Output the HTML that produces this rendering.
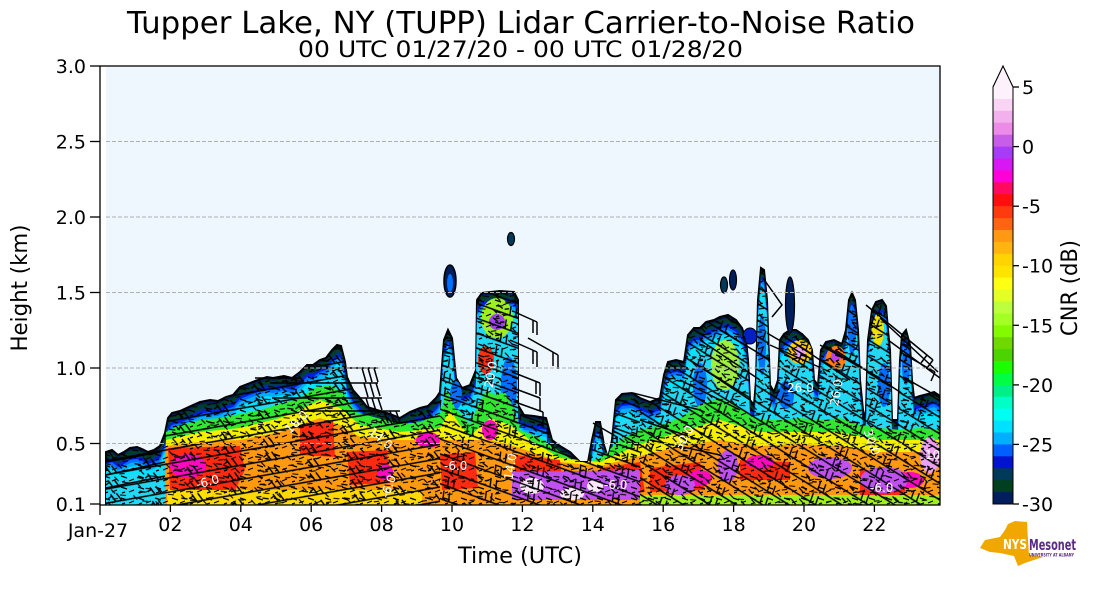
<!DOCTYPE html>
<html>
<head>
<meta charset="utf-8">
<style>
  html,body{margin:0;padding:0;background:#fff;}
  svg{display:block;}
  text{font-family:"DejaVu Sans","Liberation Sans",sans-serif;}
</style>
</head>
<body>
<svg width="1093" height="600" viewBox="0 0 1093 600" xmlns="http://www.w3.org/2000/svg">
<defs>
  <path id="env" d="M106,505 L106,452 L112,450 L118,455 L124,452 L130,448 L137,447 L142,449 L148,452 L154,450 L160,446 L165,433 L168,418 L172,413 L180,411 L193,405 L200,402 L210,400 L218,401 L226,397 L233,395 L240,387 L250,383 L258,380 L267,377 L273,378 L284,376 L292,378 L300,372 L307,365 L313,365 L320,360 L326,358 L332,350 L337,345 L341,346 L345,362 L347,377 L353,390 L360,398 L367,407 L377,410 L390,414 L400,418 L410,412 L420,408 L428,406 L436,398 L440,392 L444,340 L448,330 L452,338 L456,378 L462,388 L470,385 L476,370 L477,300 L482,293 L500,291 L514,292 L518,300 L518,405 L524,415 L534,416 L546,418 L552,440 L560,446 L570,452 L580,462 L588,462 L592,440 L596,422 L600,422 L604,445 L608,458 L612,440 L616,400 L622,394 L632,393 L640,398 L650,402 L660,398 L664,375 L668,362 L676,360 L684,362 L688,335 L694,328 L700,328 L706,322 L714,320 L720,317 L728,315 L736,320 L742,328 L746,340 L748,360 L750,400 L754,405 L756,380 L758,300 L761,268 L764,270 L767,300 L768,330 L770,385 L774,392 L778,380 L780,340 L784,334 L790,330 L796,330 L802,334 L808,340 L812,350 L814,380 L818,385 L821,350 L826,342 L834,340 L842,344 L846,330 L849,300 L852,293 L855,300 L858,330 L860,380 L864,420 L866,410 L868,340 L872,310 L876,302 L882,300 L886,306 L888,330 L890,350 L892,420 L898,420 L900,360 L902,335 L906,330 L910,345 L912,380 L914,398 L920,396 L928,394 L934,392 L940,396 L940,505 Z"/>
  <clipPath id="plotclip"><rect x="101" y="66" width="839" height="439"/></clipPath>
  <clipPath id="envclip"><use href="#env"/></clipPath>
  <pattern id="pA" width="40" height="14" patternUnits="userSpaceOnUse" patternTransform="rotate(-10)">
    <path d="M0,10H40M33,10L29,2M27,10L23,2M12,4l6,2M20,6l4,-2" stroke="#000" stroke-width="1.4" fill="none"/>
  </pattern>
  <pattern id="pB" width="40" height="14" patternUnits="userSpaceOnUse" patternTransform="rotate(20)">
    <path d="M0,10H40M33,10L31,1M27,10L25,1M12,4l6,2M20,6l4,-2" stroke="#000" stroke-width="1.4" fill="none"/>
  </pattern>
  <pattern id="pC" width="42" height="14" patternUnits="userSpaceOnUse" patternTransform="rotate(32)">
    <path d="M0,10H42M35,10L33,1M29,10L27,1M12,4l6,2M20,6l4,-2" stroke="#000" stroke-width="1.4" fill="none"/>
  </pattern>
  <pattern id="pD" width="17" height="11" patternUnits="userSpaceOnUse">
    <path d="M2,3l6,2M10,8l5,-2M3,9l3,-1" stroke="#000" stroke-width="1.2" fill="none"/>
  </pattern>
  <pattern id="pE" width="23" height="13" patternUnits="userSpaceOnUse" patternTransform="rotate(15)">
    <path d="M4,2l5,3M14,5l6,-1M8,11l5,-2" stroke="#000" stroke-width="1.1" fill="none"/>
  </pattern>
</defs>

<!-- plot background -->
<rect x="106" y="67" width="834" height="438" fill="#eef6fe"/>

<g clip-path="url(#plotclip)">
  <!-- cool layers following envelope -->
  <use href="#env" fill="#001e5c" stroke="#000" stroke-width="2"/>
  <use href="#env" transform="translate(0,3)" fill="#00401e"/>
  <use href="#env" transform="translate(0,6)" fill="#003a5a"/>
  <use href="#env" transform="translate(0,9)" fill="#0020e0"/>
  <use href="#env" transform="translate(0,12)" fill="#0070ff"/>
  <use href="#env" transform="translate(0,15)" fill="#00b0ff"/>
  <use href="#env" transform="translate(0,19)" fill="#00e4ff"/>
  <use href="#env" transform="translate(0,26)" fill="#22d8f4"/>

  <!-- floating islands -->
  <ellipse cx="450" cy="281" rx="6" ry="16" fill="#001e5c" stroke="#000" stroke-width="1.5"/>
  <ellipse cx="450" cy="283" rx="3" ry="9" fill="#0070ff"/>
  <ellipse cx="511" cy="239" rx="3.5" ry="6.5" fill="#003a5a" stroke="#000" stroke-width="1.2"/>
  <ellipse cx="724" cy="285" rx="3.5" ry="8" fill="#003a5a" stroke="#000" stroke-width="1.2"/>
  <ellipse cx="733" cy="280" rx="3.5" ry="10" fill="#001e5c" stroke="#000" stroke-width="1.2"/>
  <ellipse cx="790" cy="305" rx="4.5" ry="28" fill="#001e5c" stroke="#000" stroke-width="1.2"/>
  <ellipse cx="750" cy="336" rx="7" ry="8" fill="#0020c0" stroke="#000" stroke-width="1"/>

  <g clip-path="url(#envclip)">
    <!-- blue patches in towers -->
    <g fill="#0070ff">
      <ellipse cx="509" cy="385" rx="8" ry="28"/>
      <ellipse cx="700" cy="385" rx="7" ry="22"/>
      <ellipse cx="762" cy="345" rx="4" ry="30"/>
      <ellipse cx="786" cy="395" rx="8" ry="14"/>
      <ellipse cx="852" cy="330" rx="4" ry="25"/>
      <ellipse cx="884" cy="385" rx="6" ry="22"/>
      <ellipse cx="906" cy="365" rx="4" ry="20"/>
      <ellipse cx="456" cy="395" rx="6" ry="14"/>
    </g>
    <!-- green -->
    <path fill="#30e830" d="M166,505 L166,432 L180,425 L200,420 L220,418 L240,414 L260,410 L280,404 L300,398 L315,388 L330,385 L345,395 L355,412 L370,416 L400,424 L420,422 L440,414 L447,390 L455,408 L470,424 L478,405 L486,390 L495,395 L505,392 L515,410 L520,430 L540,438 L560,452 L580,465 L600,458 L620,440 L640,430 L660,425 L680,418 L700,405 L720,398 L740,408 L760,420 L780,420 L800,418 L820,420 L840,418 L860,425 L880,428 L900,430 L920,428 L940,430 L940,505 Z"/>
    <!-- yellow -->
    <path fill="#f5f000" d="M166,505 L166,440 L200,432 L240,428 L280,418 L300,410 L320,400 L340,408 L360,425 L400,432 L440,428 L450,410 L460,425 L470,436 L490,418 L510,425 L530,440 L560,458 L600,462 L640,444 L680,432 L720,420 L760,432 L800,432 L840,432 L880,440 L920,440 L940,440 L940,505 Z"/>
    <!-- orange -->
    <path fill="#ff9a10" d="M166,505 L166,446 L200,442 L240,440 L280,432 L300,425 L320,418 L340,425 L360,437 L400,440 L440,440 L460,440 L490,440 L520,448 L560,462 L600,466 L640,456 L680,446 L720,440 L760,446 L800,444 L840,446 L880,452 L920,452 L940,452 L940,505 Z"/>
    <!-- tower details -->
    <ellipse cx="497" cy="318" rx="16" ry="20" fill="#a0f020"/>
    <ellipse cx="497" cy="322" rx="8" ry="8" fill="#a040f0"/>
    <ellipse cx="486" cy="360" rx="8" ry="14" fill="#ff3010"/>
    <ellipse cx="725" cy="365" rx="14" ry="25" fill="#a0f040"/>
    <ellipse cx="800" cy="352" rx="12" ry="12" fill="#ffd000"/>
    <ellipse cx="800" cy="352" rx="5" ry="6" fill="#f0a0f0"/>
    <ellipse cx="836" cy="358" rx="10" ry="12" fill="#ff8010"/>
    <ellipse cx="836" cy="356" rx="5" ry="6" fill="#c040f0"/>
    <ellipse cx="878" cy="330" rx="6" ry="16" fill="#f0e000"/>
    <!-- bottom strips -->
    <rect x="167" y="489" width="45" height="16" fill="#ffe000"/>
    <rect x="212" y="490" width="210" height="15" fill="#ffd800"/>
    <rect x="640" y="495" width="300" height="10" fill="#a0f020"/>
    <!-- red patches -->
    <path fill="#ff2a10" d="M168,448 L240,446 L245,470 L235,490 L170,490 Z M300,425 L333,420 L335,457 L300,455 Z M347,452 L387,450 L390,483 L350,485 Z M440,455 L475,452 L478,488 L442,490 Z M515,455 L560,460 L562,478 L515,478 Z M600,468 L640,462 L645,492 L600,495 Z M650,468 L700,462 L705,490 L650,492 Z M740,460 L790,462 L790,480 L740,480 Z M860,470 L905,472 L905,495 L860,495 Z"/>
    <!-- magenta -->
    <g fill="#ff08c0">
      <ellipse cx="188" cy="466" rx="18" ry="12"/>
      <ellipse cx="385" cy="472" rx="8" ry="8"/>
      <ellipse cx="428" cy="440" rx="12" ry="8"/>
      <ellipse cx="490" cy="430" rx="8" ry="10"/>
      <ellipse cx="760" cy="462" rx="14" ry="7"/>
      <ellipse cx="910" cy="480" rx="14" ry="8"/>
      <ellipse cx="700" cy="478" rx="12" ry="8"/>
    </g>
    <!-- purple -->
    <g fill="#c050f0">
      <path d="M512,472 L640,470 L640,500 L512,500 Z"/>
      <ellipse cx="830" cy="468" rx="22" ry="11"/>
      <ellipse cx="884" cy="480" rx="24" ry="13"/>
      <ellipse cx="728" cy="466" rx="10" ry="16"/>
      <ellipse cx="680" cy="485" rx="15" ry="10"/>
    </g>
    <ellipse cx="930" cy="455" rx="10" ry="18" fill="#f0a0f0"/>
    <g fill="#fbe8fb">
      <ellipse cx="532" cy="486" rx="12" ry="8"/>
      <ellipse cx="572" cy="494" rx="12" ry="6"/>
      <ellipse cx="595" cy="486" rx="8" ry="6"/>
    </g>

    <!-- black mesh: barbs + contours -->
    <rect x="100" y="60" width="340" height="450" fill="url(#pA)"/>
    <rect x="440" y="60" width="200" height="450" fill="url(#pB)"/>
    <rect x="640" y="60" width="300" height="450" fill="url(#pC)"/>
    <rect x="100" y="60" width="840" height="450" fill="url(#pD)"/>
    <rect x="100" y="60" width="840" height="450" fill="url(#pE)"/>
  </g>

  <!-- explicit barbs -->
  <path fill="none" stroke="#000" stroke-width="1.5" d="
    M322,368H378 M362,368l4,14 M368,368l4,14 M374,368l4,14
    M270,383H378 M364,383l4,14 M370,383l4,14 M376,383l4,13
    M272,398H382 M366,398l4,13 M372,398l4,13 M378,398l4,12
    M300,411H400 M384,411l4,12 M390,411l4,12 M396,411l4,12
    M255,378H300
    M517,313L537,322 M537,322v13 M533,320v13
    M510,340L537,352 M537,352v15 M533,350v14
    M528,338L558,355 M558,355v14 M553,352v14
    M512,372L540,383 M540,383v13 M536,381v13
    M513,388L540,398 M540,398v13
    M515,402L543,412 M543,412v14
    M520,415L548,425 M548,425v12
    M593,423L617,437 M617,437v10
    M633,393L700,410 M612,430L640,445
    M763,278L782,305L772,317
    M767,333L813,360
    M770,345L830,372
    M790,340L850,380
    M820,345L880,378
    M835,350L900,392
    M866,305L933,360 M933,360l-6,8 M927,355l-6,8
    M880,318L938,372
    M888,340L940,378
    M900,352L935,372 M935,372l-4,9
    M905,378L940,398
    M700,340L760,380 M720,330L770,360 M690,360L750,400 M680,380L740,410
    M640,420L700,440 M650,440L720,455
    M106,475L165,462 M106,488L165,476 M106,462L160,452"/>

  <!-- contour labels -->
  <g fill="#fff" font-size="12">
    <text x="196" y="486" transform="rotate(-15 207 482)">-6.0</text>
    <text x="285" y="428" transform="rotate(-45 295 425)">18.0</text>
    <text x="368" y="438" transform="rotate(40 375 435)">14.0</text>
    <text x="378" y="492" transform="rotate(-70 388 488)">-6.0</text>
    <text x="444" y="470">-6.0</text>
    <text x="478" y="384" transform="rotate(-80 490 380)">-20.0</text>
    <text x="500" y="474" transform="rotate(-80 510 470)">14.0</text>
    <text x="604" y="489">-6.0</text>
    <text x="672" y="444" transform="rotate(-60 683 440)">30.0</text>
    <text x="787" y="392">26.0</text>
    <text x="825" y="399" transform="rotate(-80 836 395)">26.0</text>
    <text x="860" y="444" transform="rotate(70 871 440)">30.0</text>
    <text x="870" y="492">-6.0</text>
    <text x="925" y="459">10</text>
  </g>
</g>

<!-- grid lines -->
<g stroke="#b0b0b0" stroke-width="1" stroke-dasharray="4,2">
  <line x1="106" y1="141.5" x2="940" y2="141.5"/>
  <line x1="106" y1="217" x2="940" y2="217"/>
  <line x1="106" y1="292.5" x2="940" y2="292.5"/>
  <line x1="106" y1="368" x2="940" y2="368"/>
  <line x1="106" y1="443.5" x2="940" y2="443.5"/>
</g>

<!-- axes frame -->
<rect x="100" y="66" width="840" height="439" fill="none" stroke="#000" stroke-width="1.3"/>

<!-- y ticks -->
<g stroke="#000" stroke-width="1.3">
  <line x1="90" y1="66" x2="100" y2="66"/>
  <line x1="90" y1="141.5" x2="100" y2="141.5"/>
  <line x1="90" y1="217" x2="100" y2="217"/>
  <line x1="90" y1="292.5" x2="100" y2="292.5"/>
  <line x1="90" y1="368" x2="100" y2="368"/>
  <line x1="90" y1="443.5" x2="100" y2="443.5"/>
  <line x1="90" y1="504" x2="100" y2="504"/>
</g>
<g font-size="19" text-anchor="end" fill="#000">
  <text x="86" y="73">3.0</text>
  <text x="86" y="148.5">2.5</text>
  <text x="86" y="224">2.0</text>
  <text x="86" y="299.5">1.5</text>
  <text x="86" y="375">1.0</text>
  <text x="86" y="450.5">0.5</text>
  <text x="86" y="511">0.1</text>
</g>

<!-- x ticks -->
<g stroke="#000" stroke-width="1.3">
  <line x1="100" y1="505" x2="100" y2="515"/>
  <line x1="170.4" y1="505" x2="170.4" y2="512"/>
  <line x1="240.8" y1="505" x2="240.8" y2="512"/>
  <line x1="311.2" y1="505" x2="311.2" y2="512"/>
  <line x1="381.6" y1="505" x2="381.6" y2="512"/>
  <line x1="452" y1="505" x2="452" y2="512"/>
  <line x1="522.4" y1="505" x2="522.4" y2="512"/>
  <line x1="592.8" y1="505" x2="592.8" y2="512"/>
  <line x1="663.2" y1="505" x2="663.2" y2="512"/>
  <line x1="733.6" y1="505" x2="733.6" y2="512"/>
  <line x1="804" y1="505" x2="804" y2="512"/>
  <line x1="874.4" y1="505" x2="874.4" y2="512"/>
</g>
<g font-size="19" text-anchor="middle" fill="#000">
  <text x="98" y="537">Jan-27</text>
  <text x="170.4" y="531">02</text>
  <text x="240.8" y="531">04</text>
  <text x="311.2" y="531">06</text>
  <text x="381.6" y="531">08</text>
  <text x="452" y="531">10</text>
  <text x="522.4" y="531">12</text>
  <text x="592.8" y="531">14</text>
  <text x="663.2" y="531">16</text>
  <text x="733.6" y="531">18</text>
  <text x="804" y="531">20</text>
  <text x="874.4" y="531">22</text>
</g>

<!-- axis labels -->
<text x="520" y="563" font-size="22" text-anchor="middle" textLength="124" lengthAdjust="spacingAndGlyphs">Time (UTC)</text>
<text transform="translate(27,288) rotate(-90)" font-size="22" text-anchor="middle" textLength="127" lengthAdjust="spacingAndGlyphs">Height (km)</text>

<!-- titles -->
<text x="521" y="33" font-size="30" text-anchor="middle" textLength="788" lengthAdjust="spacingAndGlyphs">Tupper Lake, NY (TUPP) Lidar Carrier-to-Noise Ratio</text>
<text x="520.5" y="57" font-size="22" text-anchor="middle" textLength="445" lengthAdjust="spacingAndGlyphs">00 UTC 01/27/20 - 00 UTC 01/28/20</text>

<!-- colorbar -->
<g>
  <rect x="993" y="87.0" width="20" height="12.5" fill="#fdf2fc"/>
  <rect x="993" y="98.9" width="20" height="12.5" fill="#f9d4f4"/>
  <rect x="993" y="110.8" width="20" height="12.5" fill="#f2b0ec"/>
  <rect x="993" y="122.7" width="20" height="12.5" fill="#ec8ce8"/>
  <rect x="993" y="134.7" width="20" height="12.5" fill="#c85ee8"/>
  <rect x="993" y="146.6" width="20" height="12.5" fill="#a63cf8"/>
  <rect x="993" y="158.5" width="20" height="12.5" fill="#d818f4"/>
  <rect x="993" y="170.4" width="20" height="12.5" fill="#ff00d8"/>
  <rect x="993" y="182.3" width="20" height="12.5" fill="#ff0a60"/>
  <rect x="993" y="194.2" width="20" height="12.5" fill="#ff0e0e"/>
  <rect x="993" y="206.1" width="20" height="12.5" fill="#ff3a0c"/>
  <rect x="993" y="218.1" width="20" height="12.5" fill="#ff6410"/>
  <rect x="993" y="230.0" width="20" height="12.5" fill="#ff9812"/>
  <rect x="993" y="241.9" width="20" height="12.5" fill="#ffb410"/>
  <rect x="993" y="253.8" width="20" height="12.5" fill="#ffd400"/>
  <rect x="993" y="265.7" width="20" height="12.5" fill="#ffe400"/>
  <rect x="993" y="277.6" width="20" height="12.5" fill="#ffff14"/>
  <rect x="993" y="289.5" width="20" height="12.5" fill="#e4ff24"/>
  <rect x="993" y="301.5" width="20" height="12.5" fill="#bcff3c"/>
  <rect x="993" y="313.4" width="20" height="12.5" fill="#a4ff24"/>
  <rect x="993" y="325.3" width="20" height="12.5" fill="#84fa00"/>
  <rect x="993" y="337.2" width="20" height="12.5" fill="#6ed800"/>
  <rect x="993" y="349.1" width="20" height="12.5" fill="#4cd400"/>
  <rect x="993" y="361.0" width="20" height="12.5" fill="#1cff00"/>
  <rect x="993" y="372.9" width="20" height="12.5" fill="#00ff44"/>
  <rect x="993" y="384.9" width="20" height="12.5" fill="#00f088"/>
  <rect x="993" y="396.8" width="20" height="12.5" fill="#00ffc4"/>
  <rect x="993" y="408.7" width="20" height="12.5" fill="#00fff0"/>
  <rect x="993" y="420.6" width="20" height="12.5" fill="#00e0ff"/>
  <rect x="993" y="432.5" width="20" height="12.5" fill="#00b0ff"/>
  <rect x="993" y="444.4" width="20" height="12.5" fill="#0060ff"/>
  <rect x="993" y="456.3" width="20" height="12.5" fill="#0014d0"/>
  <rect x="993" y="468.3" width="20" height="12.5" fill="#003a5a"/>
  <rect x="993" y="480.2" width="20" height="12.5" fill="#00401e"/>
  <rect x="993" y="492.1" width="20" height="11.9" fill="#001e5c"/>
  <path d="M993,504 L993,87 L1003,66 L1013,87 L1013,504 Z" fill="none" stroke="#000" stroke-width="1"/>
  <path d="M993.5,87 L1003,67 L1012.5,87 Z" fill="#fdf2fc"/>
  <path d="M993,87 L1003,66 L1013,87" fill="none" stroke="#000" stroke-width="1"/>
</g>
<g stroke="#000" stroke-width="1.3">
  <line x1="1013" y1="87" x2="1019" y2="87"/>
  <line x1="1013" y1="146.6" x2="1019" y2="146.6"/>
  <line x1="1013" y1="206.2" x2="1019" y2="206.2"/>
  <line x1="1013" y1="265.7" x2="1019" y2="265.7"/>
  <line x1="1013" y1="325.3" x2="1019" y2="325.3"/>
  <line x1="1013" y1="384.9" x2="1019" y2="384.9"/>
  <line x1="1013" y1="444.4" x2="1019" y2="444.4"/>
  <line x1="1013" y1="504" x2="1019" y2="504"/>
</g>
<g font-size="19" fill="#000">
  <text x="1022" y="94">5</text>
  <text x="1022" y="153.6">0</text>
  <text x="1022" y="213.2">-5</text>
  <text x="1022" y="272.7">-10</text>
  <text x="1022" y="332.3">-15</text>
  <text x="1022" y="391.9">-20</text>
  <text x="1022" y="451.4">-25</text>
  <text x="1022" y="511">-30</text>
</g>
<text transform="translate(1077,288) rotate(-90)" font-size="22" text-anchor="middle" textLength="96" lengthAdjust="spacingAndGlyphs">CNR (dB)</text>

<!-- logo -->
<path d="M980,548 L985,540 L1000,537 L1005,530 L1008,524 L1015,521 L1027,522 L1028,540 L1029,555 L1043,557 L1025,563 L1018,566 L1014,556 L1000,553 L990,552 Z" fill="#f0a800"/>
<text x="1003" y="549" font-size="13" font-weight="bold" fill="#fff" textLength="24" lengthAdjust="spacingAndGlyphs">NYS</text>
<text x="1029" y="550" font-size="15" font-weight="bold" fill="#5b2a86" textLength="47" lengthAdjust="spacingAndGlyphs">Mesonet</text>
<text x="1029" y="556.5" font-size="4.5" font-weight="bold" fill="#5b2a86" textLength="45" lengthAdjust="spacingAndGlyphs">UNIVERSITY AT ALBANY</text>
</svg>
</body>
</html>
